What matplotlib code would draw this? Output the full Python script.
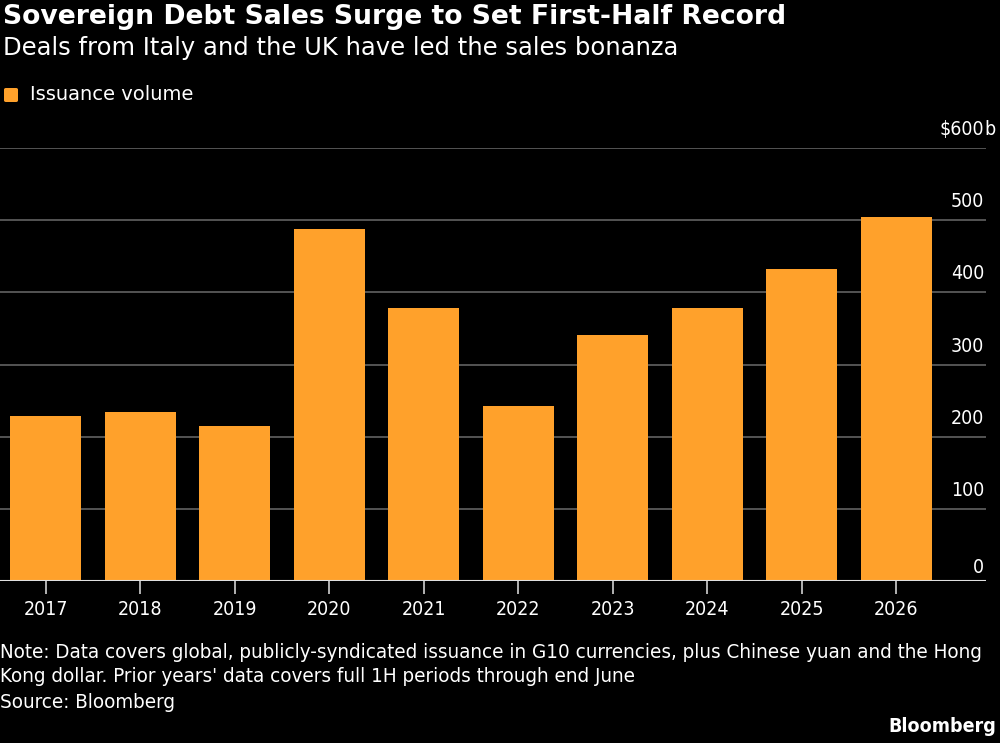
import matplotlib
matplotlib.use('Agg')
import matplotlib.pyplot as plt
import matplotlib.transforms as mtransforms
import numpy as np

# Values ($ billions)
years = ['2017', '2018', '2019', '2020', '2021', '2022', '2023', '2024', '2025', '2026']
volume = [228, 234, 215, 488, 378, 242, 341, 379, 433, 504]
y_ticks = [0, 100, 200, 300, 400, 500, 600]

orange = '#FFA12B'
fam = 'DejaVu Sans'
cond = 'condensed'

fig = plt.figure(figsize=(10, 7.43), dpi=100, facecolor='black')
ax = fig.add_axes([0.0, 0.218, 0.986, 0.5828], facecolor='black')

x = np.arange(len(years))
ax.bar(x, volume, width=0.75, color=orange, zorder=3)

ax.set_xlim(-0.484, 9.95)
ax.set_ylim(0, 600)

# grid lines
for t in y_ticks[1:]:
    ax.axhline(t, color='#5a5a5a', linewidth=1.3, zorder=1)
ax.axhline(0, color='#e0e0e0', linewidth=1.5, zorder=4)

for s in ax.spines.values():
    s.set_visible(False)
ax.set_yticks([])
ax.set_xticks(x)
ax.set_xticklabels(years, color='white', fontsize=14, family=fam, fontstretch=cond)
ax.tick_params(axis='x', length=9, width=1.2, color='#d0d0d0', pad=5)

# y labels sit above the gridlines, right aligned
for t in y_ticks:
    off = 4 if t == 0 else 9
    tr = mtransforms.offset_copy(ax.get_yaxis_transform(), fig=fig, x=0, y=off, units='dots')
    if t == 600:
        ax.text(0.998, t, '$600', transform=tr, ha='right', va='bottom', color='white',
                fontsize=14, family=fam, fontstretch=cond)
        ax.text(0.998, t, 'b', transform=tr, ha='left', va='bottom', color='white',
                fontsize=14, family=fam, fontstretch=cond)
    else:
        ax.text(0.998, t, str(t), transform=tr, ha='right', va='bottom', color='white',
                fontsize=14, family=fam, fontstretch=cond)

# titles
fig.text(0.003, 1 - 17 / 743, 'Sovereign Debt Sales Surge to Set First-Half Record', color='white',
         fontsize=19.2, fontweight='bold', family=fam, va='center')
fig.text(0.003, 1 - 48 / 743, 'Deals from Italy and the UK have led the sales bonanza', color='white',
         fontsize=17.5, family=fam, va='center')

# legend
fig.patches.append(matplotlib.patches.FancyBboxPatch((0.004, 1 - 102 / 743), 0.014, 14 / 743,
                   boxstyle='round,pad=0,rounding_size=0.002', transform=fig.transFigure,
                   facecolor=orange, edgecolor='none'))
fig.text(0.030, 1 - 95 / 743, 'Issuance volume', color='white', fontsize=14,
         family=fam, va='center')

# notes
fig.text(0.0, 1 - 652 / 743, 'Note: Data covers global, publicly-syndicated issuance in G10 currencies, plus Chinese yuan and the Hong',
         color='white', fontsize=14.75, family=fam, fontstretch=cond, va='center')
fig.text(0.0, 1 - 676 / 743, "Kong dollar. Prior years' data covers full 1H periods through end June",
         color='white', fontsize=14.75, family=fam, fontstretch=cond, va='center')
fig.text(0.0, 1 - 703 / 743, 'Source: Bloomberg',
         color='white', fontsize=14.75, family=fam, fontstretch=cond, va='center')
fig.text(0.996, 1 - 727 / 743, 'Bloomberg', color='white', fontsize=14, fontweight='bold',
         family=fam, fontstretch=cond, va='center', ha='right')

fig.savefig('out.png', dpi=100, facecolor='black')
